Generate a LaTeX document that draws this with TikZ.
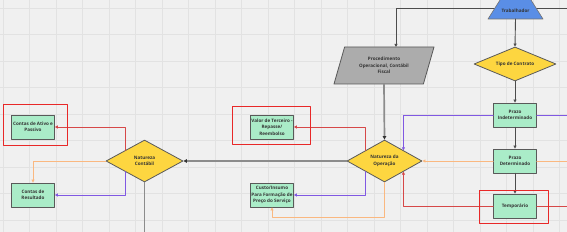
\documentclass[tikz,border=0pt]{standalone}
\usepackage{fontspec}
\setmainfont{Open Sans}
\usetikzlibrary{shapes.geometric,arrows.meta}

\begin{document}
\begin{tikzpicture}[x=1pt, y=-1pt, line cap=round, line join=round,
  every node/.style={font=\fontsize{4.6}{6.4}\selectfont\bfseries, text=black!80, align=center, inner sep=0},
  box/.style={draw=black!65, fill=boxgreen, line width=0.8, minimum width=43, minimum height=24},
  choice/.style={diamond, draw=black!65, fill=choiceyellow, line width=0.8, aspect=1.8},
  link/.style={draw=black!70, line width=0.9, -{Triangle[length=3,width=3]}},
  thick link/.style={draw=black!45, line width=1.7, -{Triangle[length=3.5,width=3.5,color=black!80]}},
  redlink/.style={draw=flowred, line width=0.9, -{Triangle[length=3,width=3]}},
  purplelink/.style={draw=flowpurple, line width=0.9, -{Triangle[length=3,width=3]}},
  orangelink/.style={draw=floworange, line width=0.9, -{Triangle[length=3,width=3]}},
  frame/.style={draw=framered, line width=0.9}]
  \definecolor{paper}{RGB}{240,240,240}
  \definecolor{gridline}{RGB}{226,226,226}
  \definecolor{boxgreen}{RGB}{170,236,200}
  \definecolor{choiceyellow}{RGB}{253,214,64}
  \definecolor{trabblue}{RGB}{90,142,230}
  \definecolor{procgray}{RGB}{172,172,172}
  \definecolor{flowred}{RGB}{214,72,72}
  \definecolor{flowpurple}{RGB}{128,88,226}
  \definecolor{floworange}{RGB}{250,184,128}
  \definecolor{framered}{RGB}{232,40,40}

  \useasboundingbox (0,0) rectangle (567,232);
  \clip (0,0) rectangle (567,232);
  \fill[paper] (0,0) rectangle (567,232);
  \foreach \i in {0,...,21}
    \draw[gridline, line width=0.8] ({3.3+26.5*\i},0) -- ++(0,232);
  \foreach \j in {0,...,8}
    \draw[gridline, line width=0.8] (0,{8+26.5*\j}) -- ++(567,0);

  \coordinate (R) at (567,0);
  \coordinate (B) at (0,232);
  \coordinate (wire) at (396,8);

  % trabalhador
  \draw[link] (wire -| R) -- (wire) -- (wire |- 0,47);
  \draw[fill=trabblue, draw=black!55, line width=0.6] (488,19) -- (543,19) -- (515.5,-24.5) -- cycle;
  \node (trab) at (515.5,10.5) {Trabalhador};
  \coordinate (trabbase) at (515.5,19);

  % coluna do contrato
  \node[choice, minimum width=82, minimum height=34] (dTipo) at (515,64) {Tipo de Contrato};
  \node[box] (bPI) at (515,115) {Prazo\\Indeterminado};
  \node[box] (bPD) at (515,161) {Prazo\\Determinado};
  \node[box] (bTemp) at (515,206) {Temporário};

  % centro
  \node[trapezium, trapezium left angle=57, trapezium right angle=123, trapezium stretches body,
        draw=black!65, fill=procgray, line width=0.8, minimum width=100, minimum height=37] (proc) at (384,65.5)
        {Procedimento\\Operacional, Contábil\\Fiscal};
  \node[choice, minimum width=75, minimum height=42] (dNO) at (384.5,161) {Natureza da\\Operação};
  \node[box] (bValor) at (272,127) {Valor de Terceiro -\\Repasse/\\Reembolso};
  \node[box] (bCusto) at (272,195) {Custo/Insumo\\Para Formação de\\Preço do Serviço};

  % esquerda
  \node[choice, minimum width=77, minimum height=42] (dNC) at (144.5,161) {Natureza\\Contábil};
  \node[box] (bAtivo) at (33,127) {Contas de Ativo e\\Passivo};
  \node[box] (bResult) at (33,195) {Contas de\\Resultado};

  \draw[link] (trabbase) -- (dTipo.north);
  \draw[link] (dTipo.south) -- (bPI.north);
  \draw[link] (bPI.south) -- (bPD.north);
  \draw[link] (bPD.south) -- (bTemp.north);

  \draw[flowpurple, line width=0.9] (bPI.east) -- (bPI.east -| R);
  \draw[floworange, line width=0.9] (bPD.east) -- (bPD.east -| R);
  \draw[flowred, line width=0.9] (bTemp.east) -- (bTemp.east -| R);
  \draw[purplelink] (bPI.west) -| (dNO.north east);
  \draw[orangelink] (bPD.west) -- (dNO.east);
  \draw[redlink] (bTemp.west) -| (dNO.south east);

  \draw[thick link] (proc.south) -- (dNO.north);
  \draw[thick link] (dNO.west) -- (dNC.east);
  \draw[draw=black!45, line width=1.7] (dNC.south) -- (dNC.south |- B);

  \draw[redlink] (dNO.north west) |- (bValor.east);
  \draw[purplelink] (dNO.south west) |- (bCusto.east);
  \draw[orangelink] (dNO.south) -- ++(0,35) -| (bCusto.south);

  \draw[redlink] (dNC.north west) |- (bAtivo.east);
  \draw[purplelink] (dNC.south west) |- (bResult.east);
  \draw[orangelink] (dNC.west) -| (bResult.north);

  \draw[frame] (3,104) rectangle (67,145);
  \draw[frame] (232,106) rectangle (310,144);
  \draw[frame] (479,190) rectangle (548,223);
\end{tikzpicture}
\end{document}
